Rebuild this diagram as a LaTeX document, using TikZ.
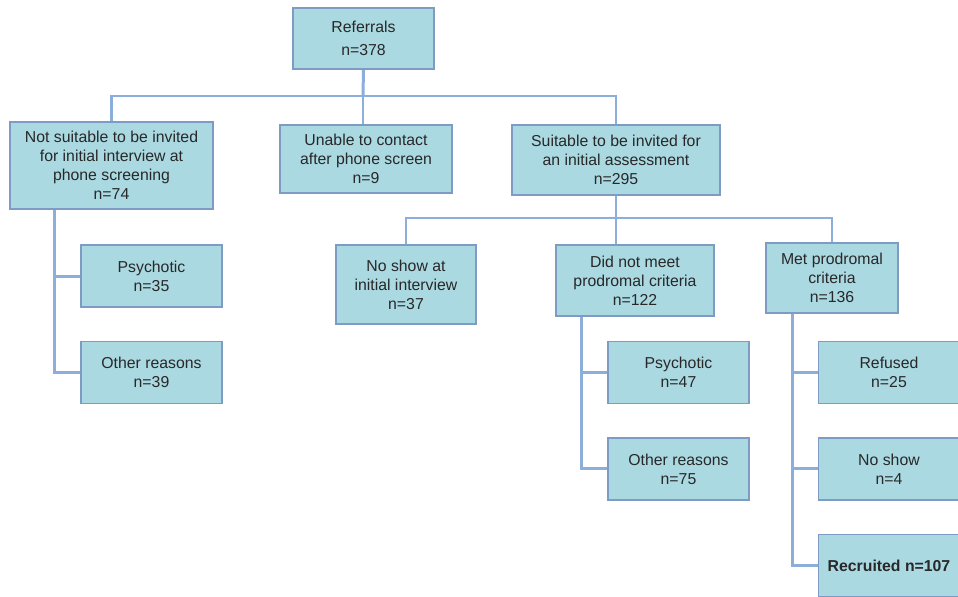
\documentclass[tikz,border=0pt]{standalone}
\usepackage{fontspec}
\setmainfont{Liberation Sans}
\usepackage{xcolor}
\definecolor{boxfill}{RGB}{170,217,226}
\definecolor{boxline}{RGB}{125,155,195}
\definecolor{linkline}{RGB}{140,174,218}
\definecolor{txt}{RGB}{40,40,40}

\begin{document}
\begin{tikzpicture}[x=0.02cm, y=-0.02cm, line width=1.7pt,
			node distance=1.93cm,
			box/.style={draw=boxline, line width=0.9pt, fill=boxfill, text=txt,
				align=center, inner sep=0pt, font=\fontsize{9}{10.8}\selectfont},
			leaf/.style={box, minimum width=2.82cm, minimum height=1.24cm},
			link/.style={draw=linkline, line width=1.7pt}]
		\useasboundingbox (0,0) rectangle (958,596);
		\clip (0,0) rectangle (958,596);

		% first level
		\node [box, minimum width=2.82cm, minimum height=1.22cm] at (363.5,38.5) (ref) {Referrals\\[2pt]n=378};
		\node [box, minimum width=4.06cm, minimum height=1.74cm] at (111.5,165.5) (notsuit) {Not suitable to be invited\\for initial interview at\\phone screening\\n=74};
		\node [box, minimum width=3.44cm, minimum height=1.36cm] at (366,159) (unable) {Unable to contact\\after phone screen\\n=9};
		\node [box, minimum width=4.16cm, minimum height=1.40cm] at (616,160) (suit) {Suitable to be invited for\\an initial assessment\\n=295};

		% second level
		\node [box, minimum width=2.80cm, minimum height=1.58cm] at (406,284.5) (noshow) {No show at\\initial interview\\n=37};
		\node [box, minimum width=3.16cm, minimum height=1.42cm] at (635,280.5) (notmeet) {Did not meet\\prodromal criteria\\n=122};
		\node [box, minimum width=2.64cm, minimum height=1.40cm] at (832,278) (met) {Met prodromal\\criteria\\n=136};

		% leaves
		\node [leaf] at (151.5,276) (psyA) {Psychotic\\n=35};
		\node [leaf, below of=psyA] (otherA) {Other reasons\\n=39};
		\node [leaf] at (678.5,372.5) (psyB) {Psychotic\\n=47};
		\node [leaf, below of=psyB] (otherB) {Other reasons\\n=75};
		\node [leaf] at (889,372.5) (refused) {Refused\\n=25};
		\node [leaf, below of=refused] (noshowB) {No show\\n=4};
		\node [leaf, below of=noshowB] (recruited) {\textbf{Recruited n=107}};

		\coordinate (busA) at (363,96);
		\coordinate (busB) at (616,218);

		\draw [link] (ref.south) -- (busA);
		\draw [link] (notsuit.north) |- (busA) -| (suit.north);
		\draw [link] (busA) -- (busA |- unable.north);

		\draw [link] (suit.south) -- (busB);
		\draw [link] (noshow.north) |- (busB) -| (met.north);
		\draw [link] (busB) -- (busB |- notmeet.north);

		\draw [link] (notsuit.south west) ++(45,0) coordinate (trunkA) |- (psyA.west);
		\draw [link] (trunkA) |- (otherA.west);
		\draw [link] (notmeet.south west) ++(26,0) coordinate (trunkB) |- (psyB.west);
		\draw [link] (trunkB) |- (otherB.west);
		\draw [link] (met.south west) ++(27,0) coordinate (trunkC) |- (refused.west);
		\draw [link] (trunkC) |- (noshowB.west);
		\draw [link] (trunkC) |- (recruited.west);
	\end{tikzpicture}
\end{document}
